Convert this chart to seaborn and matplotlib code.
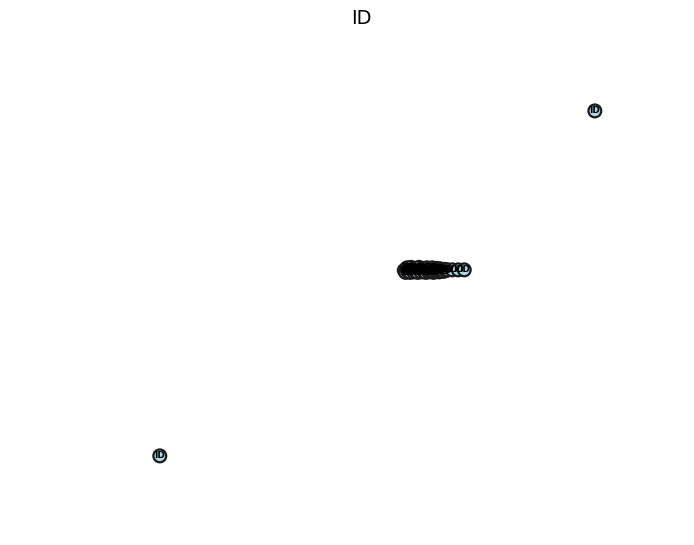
import matplotlib
matplotlib.use("Agg")
import matplotlib.pyplot as plt
import seaborn as sns
import pandas as pd

sns.set_style("white")

# point positions (arbitrary units)
x = [87.2, 21.9,
     58.6, 58.8, 59.0, 59.1, 59.3, 59.5, 59.6, 59.8, 60.0, 60.1, 60.3, 60.5,
     60.6, 60.8, 61.0, 61.1, 61.3, 61.5, 61.6, 61.8, 62.0, 62.1, 62.3, 62.5,
     62.6, 62.8, 63.0, 63.1, 63.3, 63.5, 63.6, 63.8, 64.0, 64.1, 64.3, 64.5,
     64.7, 64.9, 65.1, 65.8, 66.7, 67.6]
y = [84.4, 15.6,
     52.6, 52.2, 53.1, 52.5, 52.9, 52.2, 53.2, 52.7, 52.3, 53.0, 52.5, 52.9,
     52.2, 53.2, 52.6, 52.3, 53.0, 52.5, 52.8, 52.2, 53.1, 52.6, 52.3, 52.9,
     52.5, 53.1, 52.2, 52.8, 52.4, 53.0, 52.6, 52.3, 52.9, 52.5, 52.7, 52.4,
     52.8, 52.6, 52.7, 52.7, 52.7, 52.7]
group = ["a", "a",
         "b", "a", "a", "b", "a", "a", "a", "b", "a", "a", "b", "a",
         "a", "a", "b", "a", "a", "a", "b", "a", "a", "a", "b", "a",
         "a", "a", "b", "a", "a", "a", "b", "a", "a", "a", "b", "a",
         "a", "a", "a", "a", "a", "a"]
labels = ["ID"] * len(x)

df = pd.DataFrame({"x": x, "y": y, "group": group, "label": labels})

fig = plt.figure(figsize=(6.94, 5.45), dpi=100)
ax = fig.add_axes([0.02, 0.02, 0.96, 0.92])
sns.scatterplot(data=df, x="x", y="y", hue="group",
                palette={"a": "#add8e6", "b": "#e8e030"},
                s=85, edgecolor="#1a1a1a", linewidth=1.6, legend=False, ax=ax)
for _, r in df.iterrows():
    ax.text(r["x"], r["y"], r["label"], ha="center", va="center",
            fontsize=6.5, color="black", fontweight="bold")

ax.set_xlim(0, 100)
ax.set_ylim(0, 100)
ax.set_axis_off()
ax.set_title("ID", fontsize=14, x=0.522, color="black")

plt.savefig("out.png", dpi=100)
